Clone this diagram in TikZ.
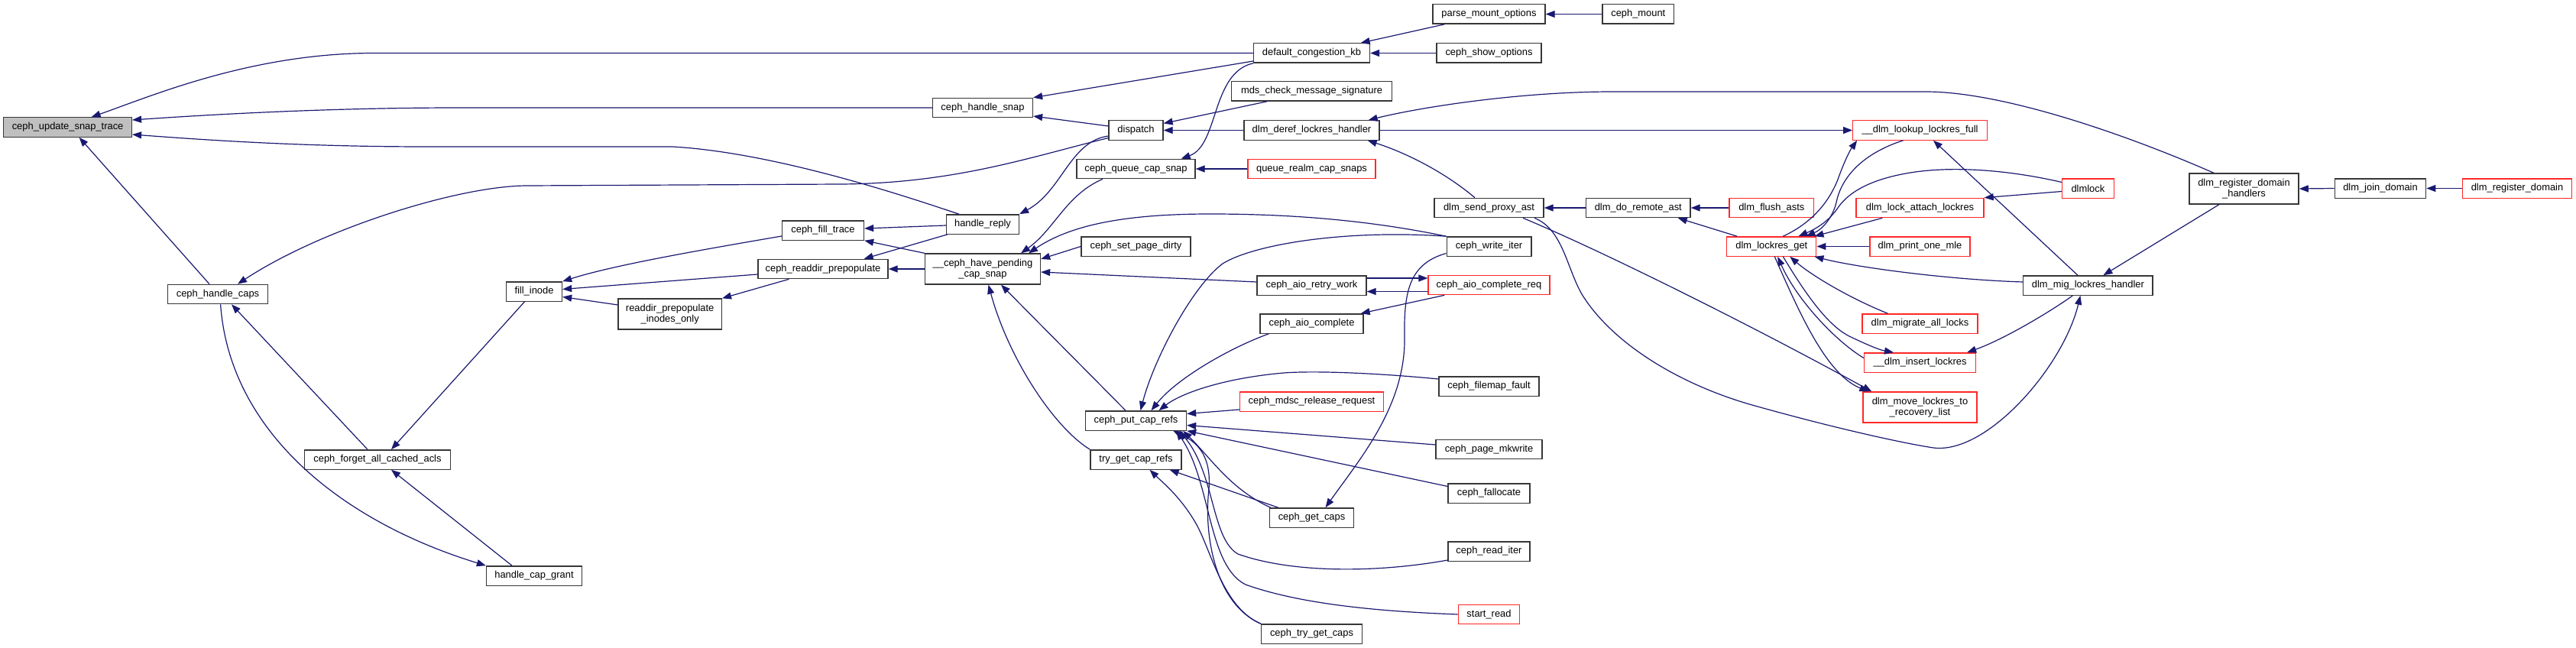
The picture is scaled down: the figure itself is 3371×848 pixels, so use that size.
\documentclass[tikz,border=0pt]{standalone}
\usepackage{fontspec}
\setmainfont{Liberation Sans}
\usetikzlibrary{arrows.meta}
\definecolor{edgec}{RGB}{25,25,112}
\definecolor{nodeline}{RGB}{55,55,55}
\definecolor{redline}{RGB}{255,40,40}
\definecolor{rootfill}{RGB}{191,191,191}
\tikzset{
  fn/.style={draw=nodeline, line width=1.3pt, fill=white, inner sep=0pt, minimum height=25.3pt, font=\fontsize{12.9}{14}\selectfont, text=black},
  fr/.style={fn, draw=redline},
  two/.style={minimum height=40pt, align=center},
  ed/.style={draw=edgec, line width=1.2pt, -{Triangle[length=12pt,width=9pt]}}
}
\begin{document}
\begin{tikzpicture}[x=1pt,y=-1pt]
\useasboundingbox (0,0) rectangle (3371,848);
% nodes
\node[fn, fill=rootfill, minimum width=167.6pt] (upd) at (88.6,166.5) {ceph\_update\_snap\_trace};
\node[fn, minimum width=131pt] (hcaps) at (285,385) {ceph\_handle\_caps};
\node[fn, minimum width=191pt] (forget) at (494,601.5) {ceph\_forget\_all\_cached\_acls};
\node[fn, minimum width=73pt] (fill) at (699,381.5) {fill\_inode};
\node[fn, minimum width=125pt] (grant) at (699,753.5) {handle\_cap\_grant};
\node[fn, two, minimum width=135.4pt] (rpio) at (876.7,411) {readdir\_prepopulate\\\_inodes\_only};
\node[fn, minimum width=107pt] (filltr) at (1077,301.5) {ceph\_fill\_trace};
\node[fn, minimum width=170pt] (rdpre) at (1077,352) {ceph\_readdir\_prepopulate};
\node[fn, minimum width=131pt] (hsnap) at (1286,141) {ceph\_handle\_snap};
\node[fn, minimum width=95pt] (hreply) at (1286,293.5) {handle\_reply};
\node[fn, two, minimum width=151pt] (pend) at (1286,352) {\_\_ceph\_have\_pending\\\_cap\_snap};
\node[fn, minimum width=71pt] (disp) at (1486.5,170.5) {dispatch};
\node[fn, minimum width=155pt] (qcap) at (1486.5,221) {ceph\_queue\_cap\_snap};
\node[fn, minimum width=143pt] (spd) at (1486.5,322.5) {ceph\_set\_page\_dirty};
\node[fn, minimum width=132pt] (put) at (1486.5,550.5) {ceph\_put\_cap\_refs};
\node[fn, minimum width=119pt] (tryref) at (1486.5,601.5) {try\_get\_cap\_refs};
\node[fn, minimum width=152pt] (dck) at (1716.5,69.5) {default\_congestion\_kb};
\node[fn, minimum width=210pt] (mds) at (1716.5,119.5) {mds\_check\_message\_signature};
\node[fn, minimum width=177pt] (deref) at (1716.5,170.5) {dlm\_deref\_lockres\_handler};
\node[fr, minimum width=167pt] (qrealm) at (1716.5,221) {queue\_realm\_cap\_snaps};
\node[fn, minimum width=143pt] (retry) at (1716.5,373.5) {ceph\_aio\_retry\_work};
\node[fn, minimum width=135pt] (aiocomp) at (1716.5,423.5) {ceph\_aio\_complete};
\node[fr, minimum width=188pt] (mdsc) at (1716.5,525.5) {ceph\_mdsc\_release\_request};
\node[fn, minimum width=110.5pt] (getcaps) at (1716.5,677.5) {ceph\_get\_caps};
\node[fn, minimum width=132pt] (trycaps) at (1716.5,829.5) {ceph\_try\_get\_caps};
\node[fn, minimum width=147pt] (pmo) at (1948.5,18.5) {parse\_mount\_options};
\node[fn, minimum width=137pt] (cso) at (1948.5,69.5) {ceph\_show\_options};
\node[fn, minimum width=143pt] (proxy) at (1948.5,272) {dlm\_send\_proxy\_ast};
\node[fn, minimum width=110.7pt] (witer) at (1948.5,322.5) {ceph\_write\_iter};
\node[fr, minimum width=159pt] (acreq) at (1948.5,373) {ceph\_aio\_complete\_req};
\node[fn, minimum width=131pt] (fmf) at (1948.5,505.5) {ceph\_filemap\_fault};
\node[fn, minimum width=139pt] (pmk) at (1948.5,588) {ceph\_page\_mkwrite};
\node[fn, minimum width=107pt] (falloc) at (1948.5,645.5) {ceph\_fallocate};
\node[fn, minimum width=107pt] (riter) at (1948.5,721.5) {ceph\_read\_iter};
\node[fr, minimum width=80.3pt] (sread) at (1948.5,804) {start\_read};
\node[fn, minimum width=93.6pt] (mount) at (2143.8,18.5) {ceph\_mount};
\node[fn, minimum width=136.5pt] (remote) at (2143.8,272) {dlm\_do\_remote\_ast};
\node[fr, minimum width=110.6pt] (flush) at (2318.3,272) {dlm\_flush\_asts};
\node[fr, minimum width=117pt] (lrget) at (2318.3,322.5) {dlm\_lockres\_get};
\node[fr, minimum width=175.4pt] (lookup) at (2512.5,170.5) {\_\_dlm\_lookup\_lockres\_full};
\node[fr, minimum width=167pt] (attach) at (2512.5,272) {dlm\_lock\_attach\_lockres};
\node[fr, minimum width=131pt] (pmle) at (2512.5,322.5) {dlm\_print\_one\_mle};
\node[fr, minimum width=151pt] (migall) at (2512.5,423.5) {dlm\_migrate\_all\_locks};
\node[fr, minimum width=146pt] (insert) at (2512.5,474.5) {\_\_dlm\_insert\_lockres};
\node[fr, two, minimum width=149pt] (moverl) at (2512.5,533) {dlm\_move\_lockres\_to\\\_recovery\_list};
\node[fr, minimum width=67.5pt] (dlmlock) at (2732.4,246.5) {dlmlock};
\node[fn, minimum width=169.3pt] (mig) at (2732.4,373.5) {dlm\_mig\_lockres\_handler};
\node[fn, two, minimum width=143.2pt] (regh) at (2936.5,247) {dlm\_register\_domain\\\_handlers};
\node[fn, minimum width=119.4pt] (join) at (3115,246.5) {dlm\_join\_domain};
\node[fr, minimum width=143.6pt] (reg) at (3294,246.5) {dlm\_register\_domain};
% edges
\draw[ed] (dck.west) -- (490,69.5) .. controls (330,69.5) and (200,125) .. ([xshift=31pt]upd.north);
\draw[ed] (hsnap.west) -- (600,141) .. controls (420,141) and (260,151) .. ([yshift=9.5pt]upd.east);
\draw[ed] ([xshift=-31pt]hreply.north) .. controls (1200,262) and (1020,200) .. (880,192) -- (560,192) .. controls (400,192) and (280,184) .. ([yshift=-9.5pt]upd.east);
\draw[ed] ([xshift=-11pt]hcaps.north) -- ([xshift=15pt]upd.south);
\draw[ed] ([yshift=-10pt]disp.west) .. controls (1350,205) and (1250,240) .. (1100,241) -- (690,243) .. controls (600,243) and (420,300) .. ([xshift=26pt]hcaps.north);
\draw[ed] ([xshift=-13pt]forget.north) -- ([xshift=18pt]hcaps.south);
\draw[ed] ([xshift=3.6pt]hcaps.south) .. controls (300,560) and (440,680) .. (grant.north west);
\draw[ed] ([xshift=-29pt]grant.north) -- ([xshift=18pt]forget.south);
\draw[ed] ([xshift=-12.5pt]fill.south) -- ([xshift=18pt]forget.north);
\draw[ed] ([yshift=-7.5pt]filltr.west) .. controls (900,330) and (800,348) .. (fill.north east);
\draw[ed] ([yshift=-7pt]rdpre.west) -- ([yshift=3pt]fill.east);
\draw[ed] ([yshift=12pt]rpio.west) -- ([yshift=-7pt]fill.east);
\draw[ed] ([xshift=-44.5pt]rdpre.south) -- (rpio.north east);
\draw[ed] ([yshift=-1.5pt]hreply.west) -- ([yshift=2.5pt]filltr.east);
\draw[ed] (pend.north west) -- (filltr.south east);
\draw[ed] ([xshift=2pt]hreply.south west) -- ([xshift=-32pt]rdpre.north east);
\draw[ed] (pend.west) -- (rdpre.east);
\draw[ed] ([yshift=-10.5pt]dck.west) -- (hsnap.north east);
\draw[ed] ([yshift=5.5pt]disp.west) -- ([yshift=-11pt]hsnap.east);
\draw[ed] ([yshift=-7.5pt]disp.west) .. controls (1400,185) and (1390,250) .. (hreply.north east);
\draw[ed] ([xshift=-58.5pt]mds.south) -- ([yshift=9pt]disp.east);
\draw[ed] (deref.west) -- (disp.east);
\draw[ed] (dck.south west) .. controls (1585,95) and (1595,190) .. ([xshift=-19pt]qcap.north east);
\draw[ed] (qrealm.west) -- (qcap.east);
\draw[ed] ([xshift=-43.5pt]qcap.south) .. controls (1395,255) and (1380,300) .. ([xshift=50pt]pend.north);
\draw[ed] (witer.north west) .. controls (1800,290) and (1700,280) .. (1584,280) .. controls (1470,280) and (1400,295) .. ([xshift=60pt]pend.north);
\draw[ed] (witer.north west) .. controls (1760,300) and (1640,320) .. (1600,345) .. controls (1560,375) and (1510,470) .. ([xshift=6pt]put.north);
\draw[ed] ([yshift=-9pt]witer.west) .. controls (1845,345) and (1837,380) .. (1838,440) .. controls (1840,530) and (1780,600) .. ([xshift=18pt]getcaps.north);
\draw[ed] (spd.west) -- ([yshift=13pt]pend.east);
\draw[ed] ([yshift=4.5pt]retry.west) -- ([yshift=-4pt]pend.east);
\draw[ed] ([xshift=-13.5pt]put.north) -- ([xshift=24pt]pend.south);
\draw[ed] (tryref.north west) .. controls (1380,560) and (1320,470) .. ([xshift=7.5pt]pend.south);
\draw[ed] ([xshift=12pt]aiocomp.south west) .. controls (1610,455) and (1540,495) .. ([xshift=20pt]put.north);
\draw[ed] ([yshift=9.5pt]fmf.west) .. controls (1800,488) and (1720,485) .. (1680,488) .. controls (1600,495) and (1545,515) .. ([xshift=30pt]put.north);
\draw[ed] ([yshift=-10.5pt]mdsc.west) -- ([yshift=9pt]put.east);
\draw[ed] ([yshift=6pt]pmk.west) -- ([yshift=-6pt]put.east);
\draw[ed] ([yshift=9pt]falloc.west) -- (put.south east);
\draw[ed] ([xshift=2pt]getcaps.north west) .. controls (1610,640) and (1585,600) .. ([xshift=-5pt]put.south east);
\draw[ed] ([yshift=-11.5pt]riter.west) .. controls (1800,750) and (1690,750) .. (1620,725) .. controls (1585,705) and (1590,620) .. ([xshift=-10pt]put.south east);
\draw[ed] (sread.west) .. controls (1800,800) and (1700,790) .. (1630,765) .. controls (1580,740) and (1585,630) .. ([xshift=-14pt]put.south east);
\draw[ed] (trycaps.north west) .. controls (1590,790) and (1575,700) .. (1582,640) .. controls (1585,600) and (1570,580) .. ([xshift=-18pt]put.south east);
\draw[ed] ([xshift=12pt]getcaps.north west) -- ([xshift=-16pt]tryref.south east);
\draw[ed] (trycaps.north west) .. controls (1600,795) and (1585,720) .. (1565,685) .. controls (1545,650) and (1520,630) .. ([xshift=18pt]tryref.south);
\draw[ed] ([yshift=9.5pt]retry.east) -- ([yshift=9pt]acreq.west);
\draw[ed] ([yshift=-8.5pt]acreq.west) -- ([yshift=-8pt]retry.east);
\draw[ed] ([xshift=22pt]acreq.south west) -- ([xshift=-4pt]aiocomp.north east);
\draw[ed] ([xshift=16pt]pmo.south west) -- ([xshift=-12.5pt]dck.north east);
\draw[ed] (cso.west) -- (dck.east);
\draw[ed] (mount.west) -- (pmo.east);
\draw[ed] ([xshift=-39.5pt]regh.north) .. controls (2780,175) and (2620,120) .. (2520,120) -- (2110,120) .. controls (1990,120) and (1860,140) .. ([xshift=-15pt]deref.north east);
\draw[ed] (deref.east) -- (lookup.west);
\draw[ed] ([xshift=-18.5pt]proxy.north) .. controls (1890,225) and (1840,200) .. ([xshift=-16pt]deref.south east);
\draw[ed] (remote.west) -- (proxy.east);
\draw[ed] (flush.west) -- (remote.east);
\draw[ed] ([xshift=14pt]lrget.north west) -- ([xshift=-17pt]remote.south east);
\draw[ed] ([xshift=44.5pt]proxy.south) .. controls (2100,330) and (2300,430) .. ([xshift=12pt]moverl.north west);
\draw[ed] ([xshift=59.5pt]proxy.south) .. controls (2045,300) and (2050,350) .. (2070,385) .. controls (2110,450) and (2200,505) .. (2300,532) .. controls (2400,560) and (2490,580) .. (2530,586) .. controls (2600,595) and (2700,480) .. ([xshift=-10pt]mig.south);
\draw[ed] (pmle.west) -- (lrget.east);
\draw[ed] ([xshift=35pt]attach.south west) -- ([xshift=-3pt]lrget.north east);
\draw[ed] ([xshift=15pt]lrget.north) .. controls (2375,290) and (2395,260) .. (2405,235) .. controls (2412,215) and (2420,198) .. ([xshift=6pt]lookup.south west);
\draw[ed] ([xshift=-22pt]lookup.south) .. controls (2440,200) and (2410,230) .. (2403,265) .. controls (2398,285) and (2385,300) .. ([xshift=-14pt]lrget.north east);
\draw[ed] ([yshift=8pt]dlmlock.west) .. controls (2640,225) and (2560,215) .. (2494,227) .. controls (2450,235) and (2420,250) .. (2405,272) .. controls (2395,287) and (2380,298) .. ([xshift=-24pt]lrget.north east);
\draw[ed] ([yshift=-4pt]dlmlock.west) -- (attach.north east);
\draw[ed] ([xshift=-13.5pt]mig.north) -- ([xshift=17.5pt]lookup.south);
\draw[ed] ([yshift=4.5pt]mig.west) .. controls (2550,366) and (2430,350) .. ([xshift=-3pt]lrget.south east);
\draw[ed] ([xshift=34pt]migall.north west) .. controls (2420,390) and (2370,360) .. ([xshift=24pt]lrget.south);
\draw[ed] ([yshift=6pt]insert.west) .. controls (2400,445) and (2350,390) .. ([xshift=8pt]lrget.south);
\draw[ed] ([xshift=15pt]lrget.south) .. controls (2360,380) and (2390,425) .. (2420,440) .. controls (2445,452) and (2460,458) .. ([xshift=-34.5pt]insert.north);
\draw[ed] ([xshift=4pt]lrget.south) .. controls (2355,410) and (2390,490) .. ([xshift=8pt]moverl.north west);
\draw[ed] ([xshift=-20pt]mig.south) .. controls (2680,410) and (2620,445) .. ([xshift=-12pt]insert.north east);
\draw[ed] ([xshift=-32.5pt]regh.south) -- ([xshift=20pt]mig.north);
\draw[ed] (join.west) -- (regh.east);
\draw[ed] (reg.west) -- (join.east);
\end{tikzpicture}
\end{document}
